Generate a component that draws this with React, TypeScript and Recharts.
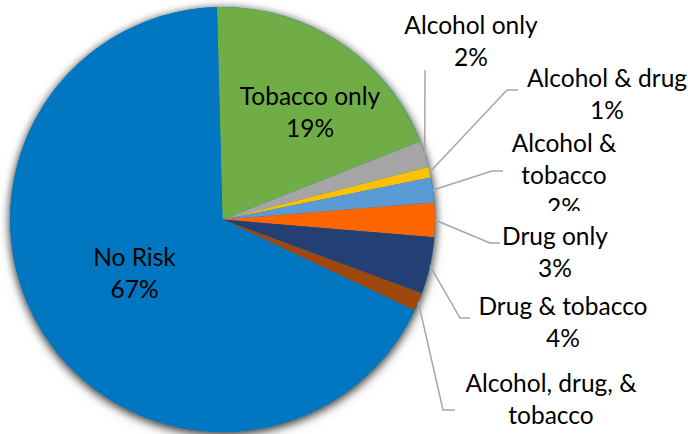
import React from 'react';
import { PieChart, Pie, Cell } from 'recharts';

// Risk groups, clockwise from the top of the pie
const categories = [
  'Tobacco only',
  'Alcohol only',
  'Alcohol & drug',
  'Alcohol & tobacco',
  'Drug only',
  'Drug & tobacco',
  'Alcohol, drug, & tobacco',
  'No Risk',
];
const shares = [19.4, 2.0, 0.8, 1.9, 2.6, 4.3, 1.4, 67.4];
const labelText = [
  ['Tobacco only'],
  ['Alcohol only'],
  ['Alcohol & drug'],
  ['Alcohol &', 'tobacco'],
  ['Drug only'],
  ['Drug & tobacco'],
  ['Alcohol, drug, &', 'tobacco'],
  ['No Risk'],
];
const colors = ['#70ad47', '#a5a5a5', '#ffc000', '#5b9bd5', '#ff6600', '#233f73', '#9e480e', '#0077c0'];

const data = categories.map((name, i) => ({ name, value: shares[i] }));
// full disc drawn underneath only to cast the soft shadow
const shadowDisc = [{ name: 'all', value: 100 }];

// hand-placed label boxes (text centre x, first baseline y) and leader elbows
const labelLayout = [
  { x: 310, y: 105 },
  { x: 471, y: 34, end: [425, 70] },
  { x: 607, y: 87, elbow: [507, 90], end: [518, 90] },
  { x: 564, y: 152, elbow: [492, 171], end: [503, 171], clipBelow: 211 },
  { x: 555, y: 245, elbow: [490, 243], end: [500, 243] },
  { x: 563, y: 315, elbow: [460, 318], end: [470, 318] },
  { x: 551, y: 392, elbow: [443, 410], end: [455, 410], noPct: true },
  { x: 134.5, y: 266 },
];

const CX = 222.5;
const CY = 219.5;
const R = 212.5;
const LINE_H = 32;
const RAD = Math.PI / 180;

const renderLabel = (props: any) => {
  const { index, midAngle } = props;
  const cx = props.cx ?? CX;
  const cy = props.cy ?? CY;
  const r = props.outerRadius ?? R;
  const lay: any = labelLayout[index];
  const lines = lay.noPct ? labelText[index] : [...labelText[index], `${Math.round(shares[index])}%`];
  const sx = cx + r * Math.cos(-midAngle * RAD);
  const sy = cy + r * Math.sin(-midAngle * RAD);
  let path = '';
  if (lay.end) {
    path = `M${sx},${sy}`;
    if (lay.elbow) path += `L${lay.elbow[0]},${lay.elbow[1]}`;
    path += `L${lay.end[0]},${lay.end[1]}`;
  }
  const clipId = `clip-${index}`;
  return (
    <g key={`lbl-${index}`}>
      {lay.clipBelow && (
        <defs>
          <clipPath id={clipId}>
            <rect x={0} y={0} width={688} height={lay.clipBelow} />
          </clipPath>
        </defs>
      )}
      {path && <path d={path} stroke="#a6a6a6" strokeWidth={1.5} fill="none" />}
      <text
        x={lay.x}
        y={lay.y}
        textAnchor="middle"
        fill="#000"
        fontSize={24.5}
        fontFamily="Lato, 'Noto Sans', sans-serif"
        clipPath={lay.clipBelow ? `url(#${clipId})` : undefined}
      >
        {lines.map((t, i) => (
          <tspan key={i} x={lay.x} dy={i === 0 ? 0 : LINE_H}>
            {t}
          </tspan>
        ))}
      </text>
    </g>
  );
};

export default function App() {
  return (
    <div style={{ width: 688, height: 434, background: '#fff' }}>
      <style>{'body{margin:0}.pie-shadow{filter:drop-shadow(0px 2px 4px rgba(0,0,0,0.5))}'}</style>
      <PieChart width={688} height={434} margin={{ top: 0, right: 0, bottom: 0, left: 0 }}>
        <Pie
          className="pie-shadow"
          data={shadowDisc}
          dataKey="value"
          cx={CX}
          cy={CY}
          outerRadius={R}
          startAngle={91.5}
          endAngle={-268.5}
          stroke="none"
          fill="#0077c0"
          label={false}
          labelLine={false}
          isAnimationActive={false}
        />
        <Pie
          data={data}
          dataKey="value"
          nameKey="name"
          cx={CX}
          cy={CY}
          outerRadius={R}
          startAngle={91.5}
          endAngle={-268.5}
          stroke="none"
          label={renderLabel}
          labelLine={false}
          isAnimationActive={false}
        >
          {data.map((d, i) => (
            <Cell key={d.name} fill={colors[i]} />
          ))}
        </Pie>
      </PieChart>
    </div>
  );
}
